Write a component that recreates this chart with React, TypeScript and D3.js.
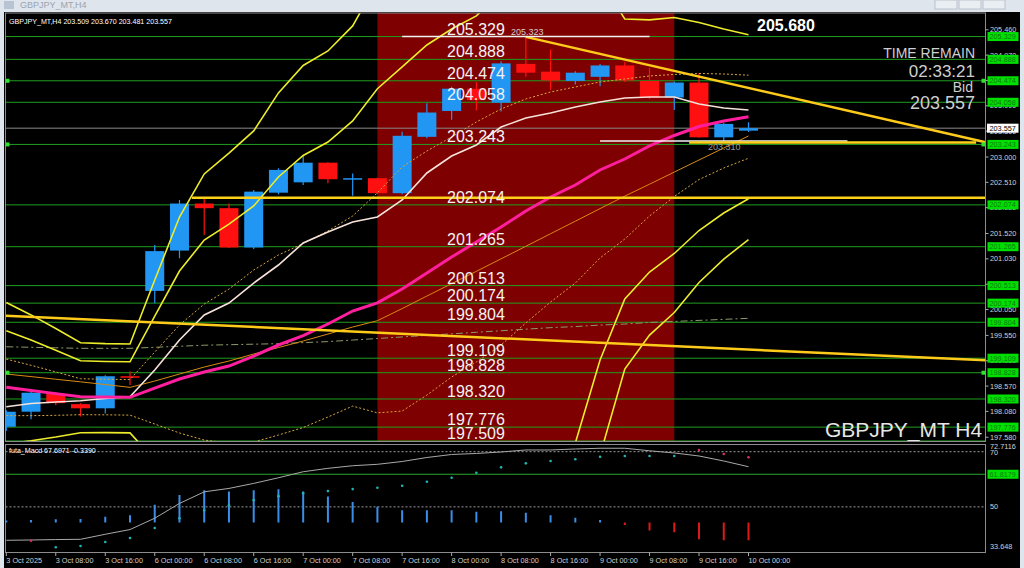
import React from "react";
import * as d3 from "d3";

const W = 1024;
const H = 568;

// ---------- data ----------
const timeLabels = ["3 Oct 2025", "3 Oct 08:00", "3 Oct 16:00", "6 Oct 00:00", "6 Oct 08:00", "6 Oct 16:00", "7 Oct 00:00", "7 Oct 08:00", "7 Oct 16:00", "8 Oct 00:00", "8 Oct 08:00", "8 Oct 16:00", "9 Oct 00:00", "9 Oct 08:00", "9 Oct 16:00", "10 Oct 00:00"];

const opens = [197.783, 198.074, 198.42, 198.22, 198.14, 198.76, 200.41, 201.19, 202.1, 202.01, 201.25, 202.31, 202.51, 202.89, 202.58, 202.59, 202.3, 203.39, 203.89, 204.32, 204.05, 204.8, 204.65, 204.47, 204.55, 204.77, 204.47, 204.15, 204.44, 203.38, 203.509];
const highs = [198.1, 198.46, 198.45, 198.24, 198.78, 198.85, 201.3, 202.17, 202.2, 202.1, 202.36, 202.78, 203.04, 202.9, 202.68, 202.6, 203.49, 204.04, 204.36, 204.45, 204.85, 205.323, 205.08, 204.66, 204.8, 204.84, 204.72, 204.46, 204.62, 203.66, 203.67];
const lows = [197.7, 197.93, 198.2, 197.98, 198.04, 198.59, 200.17, 201.04, 201.49, 201.24, 201.22, 202.28, 202.46, 202.49, 202.25, 202.28, 202.28, 203.36, 203.72, 203.9, 203.88, 204.55, 204.3, 204.4, 204.37, 204.45, 204.12, 203.91, 203.37, 203.31, 203.481];
const closes = [198.074, 198.441, 198.24, 198.14, 198.76, 198.74, 201.18, 202.1, 202.01, 201.25, 202.33, 202.75, 202.89, 202.57, 202.59, 202.3, 203.41, 203.86, 204.32, 204.1, 204.81, 204.63, 204.48, 204.63, 204.77, 204.48, 204.15, 204.44, 203.38, 203.64, 203.557];

// Bollinger middle line (pink) and read-off band widths (dotted = 1 dev, yellow = 2 and 3 dev)
const bbMid = [198.545, 198.485, 198.424, 198.364, 198.358, 198.352, 198.532, 198.706, 198.841, 198.957, 199.151, 199.364, 199.547, 199.77, 200.021, 200.18, 200.447, 200.756, 201.066, 201.356, 201.646, 201.956, 202.226, 202.458, 202.749, 202.961, 203.213, 203.416, 203.59, 203.696, 203.779];
const bbDevInner = [0.547, 0.487, 0.42, 0.348, 0.344, 0.344, 0.696, 1.044, 1.315, 1.489, 1.663, 1.741, 1.779, 1.799, 1.838, 2.128, 2.36, 2.36, 2.321, 2.321, 2.282, 2.166, 2.031, 1.896, 1.702, 1.547, 1.354, 1.18, 1.025, 0.909, 0.803];
const bbDevOuter = [0.547, 0.487, 0.42, 0.348, 0.344, 0.344, 0.696, 1.044, 1.277, 1.373, 1.451, 1.625, 1.741, 1.76, 1.838, 2.07, 2.147, 2.205, 2.205, 2.186, 2.282, 2.398, 2.476, 2.495, 1.838, 1.354, 1.219, 1.141, 1.006, 0.89, 0.793];
const maWhite = [198.17, 198.232, 198.261, 198.286, 198.329, 198.364, 198.88, 199.461, 199.944, 200.176, 200.563, 200.911, 201.337, 201.549, 201.743, 201.839, 202.168, 202.691, 203.019, 203.232, 203.58, 203.754, 203.851, 203.967, 204.064, 204.141, 204.161, 204.161, 204.025, 203.948, 203.909];
const maOrange = [198.803, 198.753, 198.702, 198.652, 198.6, 198.545, 198.667, 198.803, 198.938, 199.054, 199.19, 199.315, 199.441, 199.576, 199.712, 199.834, 200.068, 200.311, 200.551, 200.789, 201.031, 201.273, 201.516, 201.758, 202.002, 202.244, 202.474, 202.708, 202.942, 203.174, 203.406];
const maLong = [199.33, 199.32, 199.31, 199.3, 199.3, 199.3, 199.32, 199.34, 199.36, 199.37, 199.38, 199.39, 199.41, 199.43, 199.46, 199.49, 199.52, 199.55, 199.58, 199.61, 199.64, 199.67, 199.7, 199.72, 199.75, 199.77, 199.8, 199.82, 199.84, 199.86, 199.88];

const levels = [205.329, 204.888, 204.474, 204.058, 203.243, 202.074, 201.265, 200.513, 200.174, 199.804, 199.109, 198.828, 198.32, 197.776, 197.509];
const markedLevels = [204.474, 203.243, 198.828];
const priceTicks = ["205.460", "204.970", "204.480", "203.990", "203.500", "203.000", "202.510", "202.020", "201.520", "201.030", "200.540", "200.050", "199.550", "199.060", "198.570", "198.080", "197.580"];
const bidPrice = 203.557;

const zoneStart = 15;
const zoneEnd = 27;

const trendLong = [{ i: 0, p: 199.93 }, { i: 30, p: 199.276 }];
const trendDown = [{ i: 21, p: 205.323 }, { i: 30, p: 204.335 }];
const hLines = [
  { from: 7.5, to: 39.6, p: 202.21, color: "#ffd21a", w: 2.5 },
  { from: 24, to: 34, p: 203.31, color: "#f2f2f2", w: 1.5 },
  { from: 27.6, to: 39.2, p: 203.28, color: "#ffd21a", w: 2.5 },
  { from: 16, to: 26, p: 205.329, color: "#f2f2f2", w: 1.5 },
];

const macdLine = [37.89, 38.0, 38.15, 38.25, 40.07, 41.78, 45.89, 51.24, 55.45, 56.69, 58.51, 60.55, 62.73, 63.96, 64.91, 65.42, 66.44, 67.89, 68.98, 69.35, 69.89, 70.62, 70.62, 70.98, 71.24, 71.24, 70.33, 69.53, 68.44, 66.62, 64.55];
const macdDots = [null, 37.71, 35.35, 35.82, 37.27, 38.73, 42.36, 45.89, 48.8, 50.62, 52.44, 53.89, 54.98, 55.71, 56.44, 56.91, 57.64, 59.09, 60.55, 62.36, 64.33, 65.78, 66.62, 67.24, 68.18, 68.44, 68.44, 68.44, 70.62, 69.16, 67.96];
const macdDotUp = [true, false, true, true, true, true, true, true, true, true, true, true, true, true, true, true, true, true, true, true, true, true, true, true, true, true, true, true, false, false, false];
const macdHist = [0.4, 0.5, 0.65, 0.7, 1.2, 1.5, 3.6, 5.6, 6.6, 6.3, 6.6, 6.8, 6.3, 5.3, 4.2, 3.2, 2.5, 2.5, 2.5, 2.2, 2.3, 2.0, 1.5, 1.0, 0.5, -0.5, -1.6, -2.0, -3.4, -3.6, -3.6];
const macdLevels = [70, 50];
const macdGreen = 61.8179;

// ---------- component ----------
const FONT = "'Liberation Sans', Arial, sans-serif";

export default function App() {
  const x = d3.scaleLinear().domain([0, 30]).range([6.3, 748.5]);
  const y = d3.scaleLinear().domain([197.5, 205.8]).range([441.4, 12.2]);
  const my = d3.scaleLinear().domain([33.648, 72.7116]).range([552, 444.2]);
  const hy = d3.scaleLinear().domain([-6, 16]).range([552, 444]);

  const left = 5.5;
  const right = 985.5;
  const top = 13;
  const bottom = 441.5;
  const iRight = x.invert(right);
  const iLeft = x.invert(left);

  const line = d3.line<number>().x((_, i) => x(i)).y((d) => y(d));
  const band = (k: number, dev: number[]) => bbMid.map((m, i) => m + k * dev[i]);

  const extend = (a: { i: number; p: number }, b: { i: number; p: number }, i0: number, i1: number) => {
    const s = (b.p - a.p) / (b.i - a.i);
    return { x1: x(i0), y1: y(a.p + s * (i0 - a.i)), x2: x(i1), y2: y(a.p + s * (i1 - a.i)) };
  };
  const tl = extend(trendLong[0], trendLong[1], iLeft, iRight);
  const td = extend(trendDown[0], trendDown[1], trendDown[0].i, iRight);

  const bodyW = 19;
  const bull = "#2196f3";
  const bear = "#ff1010";

  const macdPath = d3.line<number>().x((_, i) => x(i)).y((d) => my(d))(macdLine) || "";

  return (
    <div style={{ position: "fixed", left: 0, top: 0, width: W, height: H, overflow: "hidden" }}>
      <svg width={W} height={H} style={{ display: "block" }} fontFamily={FONT}>
        <defs>
          <clipPath id="mainClip">
            <rect x={left} y={top} width={right - left} height={bottom - top} />
          </clipPath>
          <clipPath id="macdClip">
            <rect x={left} y={444.5} width={right - left} height={108} />
          </clipPath>
        </defs>
        {/* window frame */}
        <rect x={0} y={0} width={W} height={H} fill="#dfe5ec" />
        <rect x={4} y={12} width={1016} height={H - 12} fill="#000" />
        <text x={20} y={8} fontSize={9} fill="#9aa4ae">GBPJPY_MT,H4</text>
        <rect x={4} y={1} width={10} height={8} fill="#b8c4d2" />
        <rect x={935} y={0} width={22} height={9} fill="#e9eef3" stroke="#b9c2cc" />
        <rect x={959} y={0} width={22} height={9} fill="#e9eef3" stroke="#b9c2cc" />
        <rect x={983} y={0} width={22} height={9} fill="#e9eef3" stroke="#b9c2cc" />

        {/* main panel */}
        <g clipPath="url(#mainClip)">
          <rect x={x(zoneStart)} y={top} width={x(zoneEnd) - x(zoneStart)} height={bottom - top} fill="#7e0000" />
          {levels.map((lv) => (
            <line key={lv} x1={left} x2={right} y1={y(lv)} y2={y(lv)} stroke="#1f9f1f" strokeWidth={1} />
          ))}
          <line x1={left} x2={right} y1={y(bidPrice)} y2={y(bidPrice)} stroke="#8a8a8a" strokeWidth={1} />

          {/* candles */}
          {opens.map((o, i) => {
            const c = closes[i];
            const col = c >= o ? bull : bear;
            const yt = y(Math.max(o, c));
            const yb = y(Math.min(o, c));
            return (
              <g key={i}>
                <line x1={x(i)} x2={x(i)} y1={y(highs[i])} y2={y(lows[i])} stroke={col} strokeWidth={1.2} />
                <rect x={x(i) - bodyW / 2} y={yt} width={bodyW} height={Math.max(1.5, yb - yt)} fill={col} />
              </g>
            );
          })}

          {/* indicators */}
          <path d={line(maLong) || ""} fill="none" stroke="#8c9a6a" strokeWidth={1} strokeDasharray="7,3,2,3" />
          {[-1, 1].map((k) => (
            <path key={k} d={line(band(k, bbDevInner)) || ""} fill="none" stroke="#d6a640" strokeWidth={1} strokeDasharray="2,2" />
          ))}
          {[-3, -2, 2, 3].map((k) => (
            <path key={k} d={line(band(k, bbDevOuter)) || ""} fill="none" stroke="#ecec2a" strokeWidth={1.6} />
          ))}
          <path d={line(maOrange) || ""} fill="none" stroke="#d88a10" strokeWidth={1} />
          <path d={line(maWhite) || ""} fill="none" stroke="#f6e2da" strokeWidth={1.6} />
          <path d={line(bbMid) || ""} fill="none" stroke="#ff1f9e" strokeWidth={3} />

          {/* objects */}
          <line {...tl} stroke="#ffcb1a" strokeWidth={2.5} />
          <line {...td} stroke="#ffcb1a" strokeWidth={2.5} />
          {hLines.map((h, k) => (
            <line key={k} x1={x(h.from)} x2={x(h.to)} y1={y(h.p)} y2={y(h.p)} stroke={h.color} strokeWidth={h.w} />
          ))}
          {markedLevels.map((lv) => (
            <g key={lv}>
              <rect x={left} y={y(lv) - 2} width={4} height={4} fill="#33dd33" />
              <rect x={right - 4} y={y(lv) - 2} width={4} height={4} fill="#33dd33" />
            </g>
          ))}
          {levels.map((lv) => (
            <text key={lv} x={447} y={y(lv) - 2} fontSize={16} fill="#f2f2f2">{lv.toFixed(3)}</text>
          ))}
          <text x={511} y={35} fontSize={9} fill="#cfcfcf">{highs[21].toFixed(3)}</text>
          <text x={708} y={150} fontSize={9} fill="#9a9a9a">{lows[29].toFixed(3)}</text>
        </g>
        <text x={9} y={24} fontSize={7.1} fill="#ffffff">
          {`GBPJPY_MT,H4  ${opens[30].toFixed(3)} ${highs[30].toFixed(3)} ${lows[30].toFixed(3)} ${closes[30].toFixed(3)}`}
        </text>
        <text x={757} y={31} fontSize={16} fontWeight="bold" fill="#ffffff">205.680</text>
        <text x={975} y={58} fontSize={14} fill="#cfcfcf" textAnchor="end">TIME REMAIN</text>
        <text x={975} y={77} fontSize={17} fill="#cfcfcf" textAnchor="end">02:33:21</text>
        <text x={973} y={92} fontSize={14} fill="#cfcfcf" textAnchor="end">Bid</text>
        <text x={975} y={109} fontSize={18} fill="#cfcfcf" textAnchor="end">{bidPrice.toFixed(3)}</text>
        <text x={825} y={437} fontSize={21} fill="#e6e6e6">GBPJPY_MT H4</text>
        <rect x={left} y={top} width={right - left} height={bottom - top} fill="none" stroke="#8c8c8c" strokeWidth={1} />

        {/* price axis */}
        {priceTicks.map((t) => (
          <g key={t}>
            <line x1={right} x2={right + 3} y1={y(+t)} y2={y(+t)} stroke="#aaa" />
            <text x={990} y={y(+t) + 2.6} fontSize={7.3} fill="#d0d0d0">{t}</text>
          </g>
        ))}
        {levels.filter((lv) => y(lv) < 440).map((lv) => (
          <g key={lv}>
            <rect x={987.5} y={y(lv) - 4.5} width={31} height={9} fill="#00e000" />
            <text x={989.5} y={y(lv) + 2.6} fontSize={7.3} fill="#107a10">{lv.toFixed(3)}</text>
          </g>
        ))}
        <rect x={987} y={y(bidPrice) - 4.5} width={31.5} height={9} fill="#ffffff" />
        <text x={989.5} y={y(bidPrice) + 2.6} fontSize={7.3} fill="#000">{bidPrice.toFixed(3)}</text>

        {/* MACD panel */}
        <g clipPath="url(#macdClip)">
          {macdLevels.map((lv) => (
            <line key={lv} x1={left} x2={right} y1={my(lv)} y2={my(lv)} stroke="#9a9a9a" strokeDasharray="2,2" />
          ))}
          <line x1={left} x2={right} y1={my(macdGreen)} y2={my(macdGreen)} stroke="#2aa82a" strokeWidth={1} />
          {macdHist.map((v, i) => (
            <line key={i} x1={x(i)} x2={x(i)} y1={hy(0)} y2={hy(v)} stroke={v >= 0 ? "#3a8ee8" : "#e01818"} strokeWidth={2} />
          ))}
          <path d={macdPath} fill="none" stroke="#a8a8a8" strokeWidth={1} />
          {macdDots.map((v, i) =>
            v == null ? null : (
              <circle key={i} cx={x(i)} cy={my(v)} r={1.3} fill={macdDotUp[i] ? "#1fb5b5" : "#d83060"} />
            )
          )}
        </g>
        <text x={9} y={453} fontSize={7.1} fill="#ffffff">futa_Macd 67.6971 -0.3390</text>
        <rect x={left} y={444.5} width={right - left} height={108} fill="none" stroke="#8c8c8c" strokeWidth={1} />
        <text x={990} y={my(72.7116) + 5} fontSize={7.3} fill="#d0d0d0">72.7116</text>
        <text x={990} y={my(70) + 3} fontSize={7.3} fill="#d0d0d0">70</text>
        <text x={990} y={my(50) + 2.6} fontSize={7.3} fill="#d0d0d0">50</text>
        <text x={990} y={my(33.648) - 3} fontSize={7.3} fill="#d0d0d0">33.648</text>
        <rect x={987.5} y={my(macdGreen) - 4.5} width={31} height={9} fill="#00e000" />
        <text x={989.5} y={my(macdGreen) + 2.6} fontSize={7.3} fill="#107a10">{macdGreen.toFixed(4)}</text>

        {/* time axis */}
        {timeLabels.map((t, k) => (
          <g key={t}>
            <line x1={x(k * 2)} x2={x(k * 2)} y1={552.5} y2={556} stroke="#aaa" />
            <text x={x(k * 2)} y={563} fontSize={7.3} fill="#d0d0d0">{t}</text>
          </g>
        ))}
      </svg>
    </div>
  );
}
